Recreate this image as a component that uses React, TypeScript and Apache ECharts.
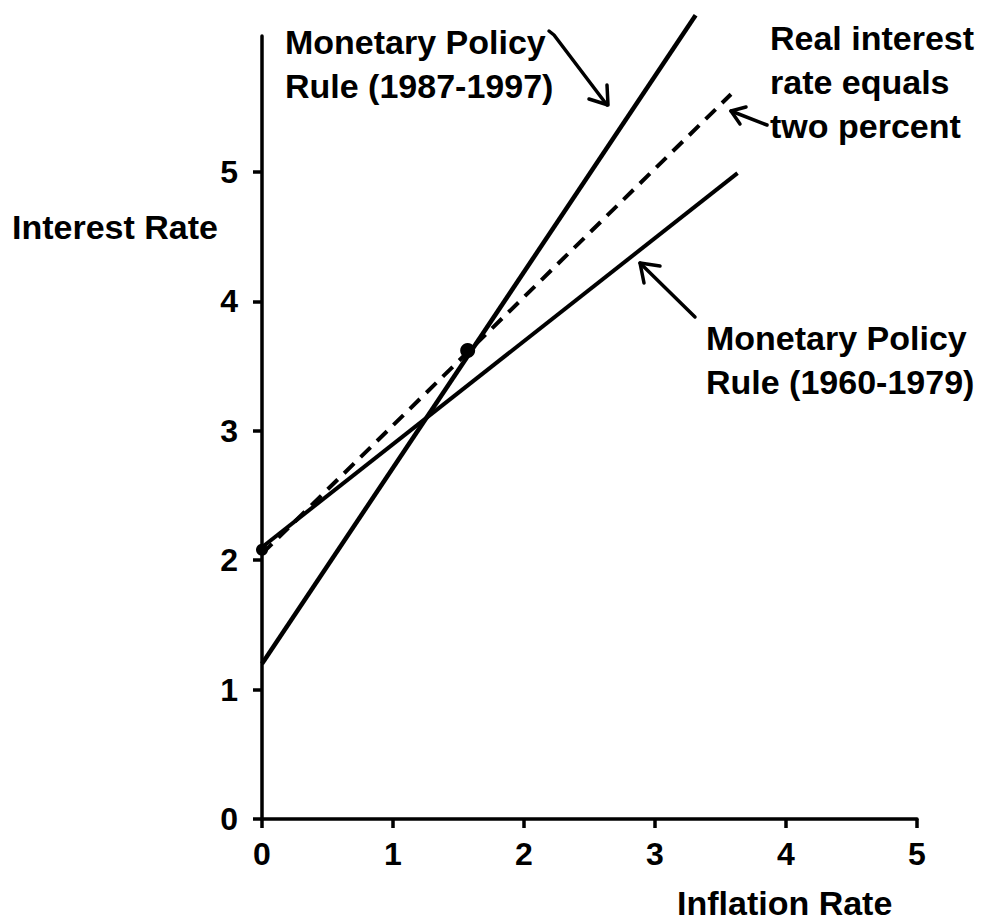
import React, { useEffect, useRef } from "react";
import * as echarts from "echarts";

// ---- data ----
const xTickValues = [0, 1, 2, 3, 4, 5];
const yTickValues = [0, 1, 2, 3, 4, 5];
const rule1987to1997 = [
  [0, 1.2],
  [3.31, 6.21],
];
const rule1960to1979 = [
  [0, 2.1],
  [3.63, 4.99],
];
const realRateTwoPercent = [
  [0, 2.05],
  [3.58, 5.6],
];
const markedPoints = [
  { value: [1.57, 3.62], size: 15 },
  { value: [0, 2.08], size: 12 },
];

const FONT = '"Liberation Sans", Arial, Helvetica, sans-serif';

function txt(text: string, x: number, y: number, size = 34) {
  return {
    type: "text",
    x,
    y,
    silent: true,
    style: {
      text,
      fill: "#000",
      font: `bold ${size}px ${FONT}`,
      align: "left",
      verticalAlign: "middle",
    },
  };
}

function pl(points: number[][], w = 3.5) {
  return {
    type: "polyline",
    silent: true,
    shape: { points },
    style: { stroke: "#000", lineWidth: w, fill: null, lineJoin: "round", lineCap: "round" },
  };
}

export default function App() {
  const ref = useRef<HTMLDivElement>(null);
  useEffect(() => {
    if (!ref.current) return;
    const chart = echarts.init(ref.current, null, { renderer: "svg" });
    const axisLineStyle = { color: "#000", width: 3.5 };
    const labelStyle = { color: "#000", fontSize: 32, fontWeight: "bold", fontFamily: FONT };
    chart.setOption({
      animation: false,
      backgroundColor: "#fff",
      grid: { left: 262, right: 75, top: 36, bottom: 103 },
      xAxis: {
        type: "value",
        min: 0,
        max: 5,
        interval: 1,
        axisLine: { show: true, lineStyle: axisLineStyle },
        axisTick: { show: true, length: 9, lineStyle: axisLineStyle, customValues: xTickValues },
        axisLabel: { ...labelStyle, margin: 19, customValues: xTickValues },
        splitLine: { show: false },
      },
      yAxis: {
        type: "value",
        min: 0,
        max: 6.05,
        axisLine: { show: true, lineStyle: axisLineStyle },
        axisTick: { show: true, length: 9, lineStyle: axisLineStyle, customValues: yTickValues },
        axisLabel: { ...labelStyle, margin: 24, customValues: yTickValues },
        splitLine: { show: false },
      },
      series: [
        {
          name: "Monetary Policy Rule (1987-1997)",
          type: "line",
          data: rule1987to1997,
          symbol: "none",
          clip: false,
          lineStyle: { color: "#000", width: 4.5 },
        },
        {
          name: "Monetary Policy Rule (1960-1979)",
          type: "line",
          data: rule1960to1979,
          symbol: "none",
          clip: false,
          lineStyle: { color: "#000", width: 4 },
        },
        {
          name: "Real interest rate equals two percent",
          type: "line",
          data: realRateTwoPercent,
          symbol: "none",
          clip: false,
          lineStyle: { color: "#000", width: 4, type: [14, 9] },
        },
        {
          type: "scatter",
          data: markedPoints.map((p) => ({ value: p.value, symbolSize: p.size })),
          itemStyle: { color: "#000", opacity: 1 },
          clip: false,
          z: 5,
        },
      ],
      graphic: [
        txt("Interest Rate", 12, 227),
        txt("Inflation Rate", 677, 903),
        txt("Monetary Policy", 285, 42),
        txt("Rule (1987-1997)", 285, 86),
        txt("Real interest", 770, 38),
        txt("rate equals", 770, 82),
        txt("two percent", 770, 126),
        txt("Monetary Policy", 706, 338),
        txt("Rule (1960-1979)", 706, 382),
        // arrow 1
        pl([
          [549, 31],
          [554, 35],
          [607, 105],
        ]),
        pl([
          [607, 85],
          [608, 105],
          [589, 99],
        ]),
        // arrow 2
        pl([
          [767, 125],
          [731, 111],
        ]),
        pl([
          [746, 107],
          [731, 111],
          [740, 124],
        ]),
        // arrow 3
        pl([
          [695, 317],
          [640, 263],
        ]),
        pl([
          [660, 266],
          [640, 263],
          [644, 283],
        ]),
      ],
    });
    return () => chart.dispose();
  }, []);
  return (
    <div
      ref={ref}
      style={{ position: "fixed", left: 0, top: 0, width: 992, height: 922, background: "#fff" }}
    />
  );
}
